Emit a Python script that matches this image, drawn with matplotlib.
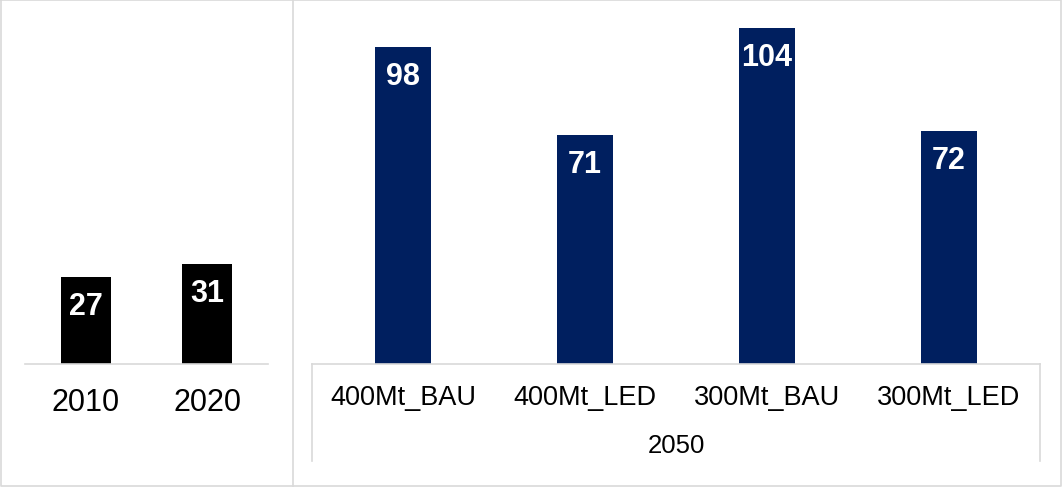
import matplotlib
matplotlib.use("Agg")
import matplotlib.pyplot as plt
from matplotlib.lines import Line2D

plt.rcParams['font.family'] = ['Liberation Sans', 'DejaVu Sans']

hist_years = ["2010", "2020"]
hist_values = [27, 31]
scen_labels = ["400Mt_BAU", "400Mt_LED", "300Mt_BAU", "300Mt_LED"]
scen_values = [98, 71, 104, 72]
group_label = "2050"

W, H = 1062, 489
fig = plt.figure(figsize=(W / 100, H / 100), dpi=100)
fig.patch.set_facecolor("white")

px_per_unit = 3.23
base_y = 365
top_y = 5
ymax = (base_y - top_y) / px_per_unit
grey = "#d9d9d9"


def add_axes_px(x0, x1):
    return fig.add_axes([x0 / W, 1 - base_y / H, (x1 - x0) / W, (base_y - top_y) / H])


def fig_line(xs, ys, **kw):
    fig.add_artist(Line2D([x / W for x in xs], [1 - y / H for y in ys],
                          transform=fig.transFigure, color=grey, lw=1.2, **kw))


# Left panel
ax1 = add_axes_px(25, 268)
x1 = range(len(hist_values))
ax1.bar(x1, hist_values, width=0.41, color="black")
ax1.set_xlim(-0.5, len(hist_values) - 0.5)
ax1.set_ylim(0, ymax)
for i, v in enumerate(hist_values):
    ax1.annotate(str(v), (i, v), xytext=(0, -29), textcoords="offset pixels",
                 ha="center", va="center", color="white", fontsize=22, fontweight="bold")
    ax1.annotate(hist_years[i], (i, 0), xytext=(0, -38), textcoords="offset pixels",
                 ha="center", va="center", color="black", fontsize=22)

# Right panel
ax2 = add_axes_px(312, 1040)
x2 = range(len(scen_values))
ax2.bar(x2, scen_values, width=0.313, color="#001f5f")
ax2.set_xlim(-0.5, len(scen_values) - 0.5)
ax2.set_ylim(0, ymax)
for i, v in enumerate(scen_values):
    ax2.annotate(str(v), (i, v), xytext=(0, -29), textcoords="offset pixels",
                 ha="center", va="center", color="white", fontsize=22, fontweight="bold")
    ax2.annotate(scen_labels[i], (i, 0), xytext=(0, -33), textcoords="offset pixels",
                 ha="center", va="center", color="black", fontsize=19.5)
ax2.annotate(group_label, ((len(scen_values) - 1) / 2, 0), xytext=(0, -81),
             textcoords="offset pixels", ha="center", va="center",
             color="black", fontsize=18.5)

for ax in (ax1, ax2):
    ax.axis("off")

# axis lines and frame
fig_line([25, 268], [365, 365])
fig_line([312, 1040], [365, 365])
fig_line([312, 312], [365, 462])
fig_line([1040, 1040], [365, 462])
fig_line([293, 293], [1, 487])
fig_line([1, 1061, 1061, 1, 1], [1, 1, 487, 487, 1])

fig.savefig("out.png", dpi=100, facecolor="white")
